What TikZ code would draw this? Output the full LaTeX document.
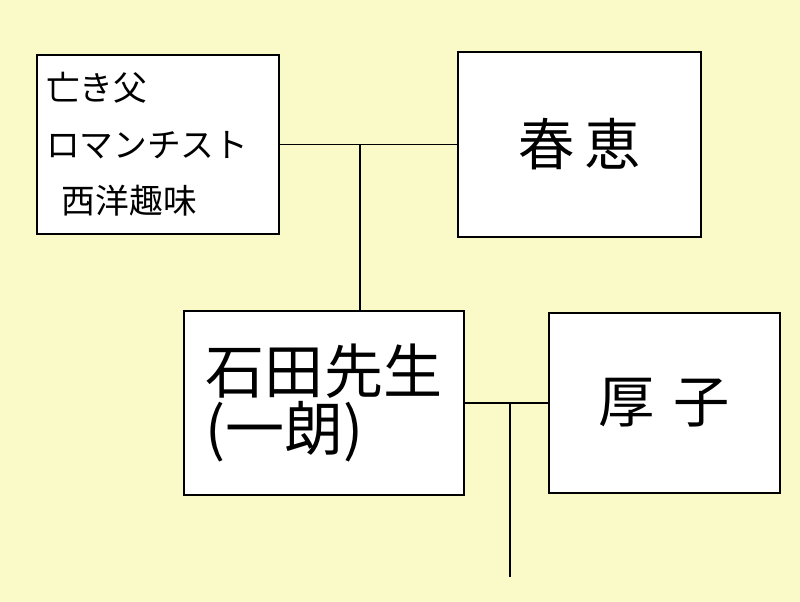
\documentclass[tikz,border=0pt]{standalone}
\usepackage{fontspec}
\newfontfamily\jp{Noto Sans CJK JP}
\usetikzlibrary{positioning}
\definecolor{paper}{RGB}{250,250,200}
\begin{document}
\begin{tikzpicture}[
		box/.style={draw,fill=white,line width=1.2pt,inner sep=0pt},
		every node/.append style={font=\jp},
		line width=1.2pt]
	%% background
	\fill[paper] (0,0) rectangle (20,15.05);
	%% parents
	\node[box,minimum width=6.05cm,minimum height=4.475cm,align=left,
		font=\jp\fontsize{24}{40}\selectfont] (father) at (3.95,11.44)
		{\makebox[5.6cm][l]{亡き父}\\ロマンチスト\\\hspace{0.4cm}西洋趣味};
	\node[box,minimum width=6.075cm,minimum height=4.625cm,
		font=\jp\fontsize{40}{46}\selectfont] (harue) at (14.49,11.44) {春\,恵};
	%% children
	\node[box,minimum width=7cm,minimum height=4.6cm,align=left,
		font=\jp\fontsize{42}{40}\selectfont] (ishida) at (8.1,4.975)
		{石田先生\\(一朗)\hspace{2.6cm}};
	\node[box,minimum width=5.775cm,minimum height=4.5cm,
		font=\jp\fontsize{40}{46}\selectfont] (atsuko) at (16.61,4.975) {厚\,\,子};
	%% connectors
	\coordinate (j1) at (9,11.44);
	\coordinate (j2) at (12.75,4.975);
	\coordinate (e2) at (12.75,0.625);
	\draw (father.east) -- (harue.west);
	\draw (j1) -- (j1 |- ishida.north);
	\draw (ishida.east) -- (atsuko.west);
	\draw (j2) -- (e2);
\end{tikzpicture}
\end{document}
